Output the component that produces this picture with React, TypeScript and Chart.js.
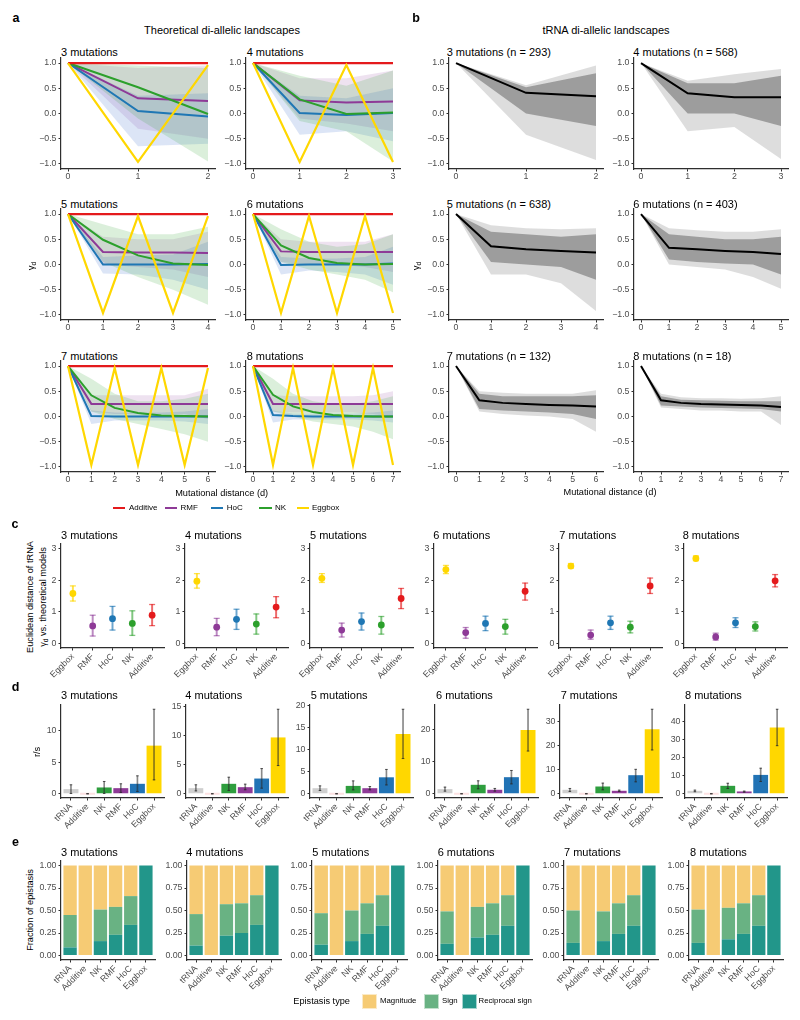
import React, { useEffect, useRef } from "react";
import { Chart, registerables } from "chart.js";

Chart.register(...registerables);

const FONT = '"Liberation Sans", Arial, Helvetica, sans-serif';
Chart.defaults.font.family = FONT;

// ================= DATA =================
const mutations = [3, 4, 5, 6, 7, 8];
const trnaCounts = [293, 568, 638, 403, 132, 18];

const distanceTicks = [
  [0, 1, 2],
  [0, 1, 2, 3],
  [0, 1, 2, 3, 4],
  [0, 1, 2, 3, 4, 5],
  [0, 1, 2, 3, 4, 5, 6],
  [0, 1, 2, 3, 4, 5, 6, 7],
];
const gammaTicks = [-1, -0.5, 0, 0.5, 1];
const gammaTickLabels = ["\u22121.0", "\u22120.5", "0.0", "0.5", "1.0"];

// ---- panel a: theoretical landscapes (mean lines) ----
const additiveMean = [
  [1, 1, 1],
  [1, 1, 1, 1],
  [1, 1, 1, 1, 1],
  [1, 1, 1, 1, 1, 1],
  [1, 1, 1, 1, 1, 1, 1],
  [1, 1, 1, 1, 1, 1, 1, 1],
];
const eggboxMean = [
  [1, -0.96, 0.96],
  [1, -0.96, 0.96, -0.96],
  [1, -0.96, 0.96, -0.96, 0.96],
  [1, -0.96, 0.96, -0.96, 0.96, -0.96],
  [1, -0.96, 0.96, -0.96, 0.96, -0.96, 0.96],
  [1, -0.96, 0.96, -0.96, 0.96, -0.96, 0.96, -0.96],
];
const rmfMean = [
  [1, 0.3, 0.25],
  [1, 0.26, 0.22, 0.24],
  [1, 0.25, 0.24, 0.24, 0.23],
  [1, 0.26, 0.25, 0.25, 0.25, 0.25],
  [1, 0.25, 0.25, 0.25, 0.25, 0.25, 0.25],
  [1, 0.25, 0.25, 0.25, 0.25, 0.25, 0.25, 0.25],
];
const hocMean = [
  [1, 0.05, -0.06],
  [1, 0.01, -0.03, 0.01],
  [1, 0.0, 0.0, 0.0, 0.01],
  [1, -0.01, 0.0, 0.0, 0.0, 0.02],
  [1, 0.01, 0.0, 0.0, 0.0, 0.0, 0.0],
  [1, 0.03, 0.01, 0.0, 0.0, 0.0, 0.0, 0.0],
];
const nkMean = [
  [1, 0.52, -0.01],
  [1, 0.28, -0.01, 0.02],
  [1, 0.49, 0.18, 0.02, -0.01],
  [1, 0.38, 0.13, 0.03, 0.0, 0.01],
  [1, 0.42, 0.17, 0.07, 0.02, 0.01, 0.0],
  [1, 0.43, 0.2, 0.09, 0.03, 0.01, 0.0, 0.0],
];
// ---- panel a: spread of the simulated landscapes (envelopes) ----
const rmfLo = [
  [1, -0.3, -0.5],
  [1, -0.1, -0.2, -0.35],
  [1, 0.0, -0.05, -0.1, -0.25],
  [1, 0.05, 0.0, 0.0, -0.05, -0.15],
  [1, 0.1, 0.05, 0.05, 0.05, 0.05, -0.05],
  [1, 0.1, 0.08, 0.08, 0.08, 0.08, 0.05, 0.0],
];
const rmfHi = [
  [1, 0.9, 0.95],
  [1, 0.7, 0.7, 0.85],
  [1, 0.55, 0.5, 0.5, 0.65],
  [1, 0.5, 0.45, 0.45, 0.45, 0.6],
  [1, 0.42, 0.42, 0.42, 0.42, 0.42, 0.55],
  [1, 0.42, 0.4, 0.4, 0.4, 0.4, 0.42, 0.5],
];
const hocLo = [
  [1, -0.65, -0.6],
  [1, -0.42, -0.35, -0.55],
  [1, -0.18, -0.2, -0.3, -0.5],
  [1, -0.2, -0.12, -0.15, -0.2, -0.4],
  [1, -0.15, -0.08, -0.08, -0.08, -0.1, -0.15],
  [1, -0.12, -0.06, -0.06, -0.06, -0.06, -0.08, -0.12],
];
const hocHi = [
  [1, 0.35, 0.4],
  [1, 0.35, 0.3, 0.5],
  [1, 0.15, 0.18, 0.2, 0.45],
  [1, 0.15, 0.12, 0.12, 0.15, 0.35],
  [1, 0.12, 0.08, 0.08, 0.08, 0.1, 0.15],
  [1, 0.12, 0.06, 0.06, 0.06, 0.06, 0.08, 0.12],
];
const nkLo = [
  [1, -0.1, -0.95],
  [1, -0.15, -0.35, -0.95],
  [1, 0.05, -0.25, -0.5, -0.8],
  [1, 0.05, -0.1, -0.2, -0.3, -0.55],
  [1, 0.1, -0.05, -0.15, -0.25, -0.35, -0.5],
  [1, 0.1, 0.0, -0.1, -0.15, -0.2, -0.3, -0.45],
];
const nkHi = [
  [1, 0.95, 0.9],
  [1, 0.75, 0.55, 0.85],
  [1, 0.8, 0.6, 0.6, 0.75],
  [1, 0.7, 0.45, 0.35, 0.4, 0.6],
  [1, 0.75, 0.45, 0.3, 0.3, 0.35, 0.45],
  [1, 0.75, 0.45, 0.3, 0.25, 0.25, 0.3, 0.4],
];

// ---- panel b: tRNA landscapes ----
const trnaMean = [
  [1, 0.41, 0.34],
  [1, 0.4, 0.32, 0.32],
  [1, 0.36, 0.3, 0.27, 0.24],
  [1, 0.33, 0.3, 0.27, 0.25, 0.21],
  [1, 0.32, 0.27, 0.25, 0.23, 0.22, 0.2],
  [1, 0.32, 0.27, 0.25, 0.24, 0.23, 0.22, 0.19],
];
const trnaLo = [
  [1, -0.42, -0.92],
  [1, -0.35, -0.27, -0.9],
  [1, -0.2, -0.2, -0.37, -0.92],
  [1, 0.0, -0.05, -0.1, -0.25, -0.48],
  [1, 0.1, 0.05, 0.02, 0.0, -0.05, -0.3],
  [1, 0.18, 0.15, 0.12, 0.12, 0.1, 0.1, -0.17],
];
const trnaHi = [
  [1, 0.56, 0.95],
  [1, 0.65, 0.78, 0.88],
  [1, 0.78, 0.72, 0.7, 0.72],
  [1, 0.72, 0.68, 0.65, 0.65, 0.7],
  [1, 0.5, 0.47, 0.45, 0.45, 0.45, 0.52],
  [1, 0.45, 0.38, 0.36, 0.36, 0.35, 0.36, 0.4],
];
const trnaCoreLo = [
  [1, 0.0, -0.25],
  [1, 0.0, 0.0, -0.25],
  [1, 0.05, 0.0, -0.05, -0.3],
  [1, 0.1, 0.05, 0.02, 0.0, -0.2],
  [1, 0.15, 0.12, 0.1, 0.08, 0.05, -0.05],
  [1, 0.22, 0.2, 0.18, 0.17, 0.16, 0.15, 0.1],
];
const trnaCoreHi = [
  [1, 0.52, 0.8],
  [1, 0.6, 0.6, 0.75],
  [1, 0.65, 0.6, 0.55, 0.6],
  [1, 0.6, 0.55, 0.5, 0.5, 0.55],
  [1, 0.45, 0.4, 0.4, 0.4, 0.4, 0.42],
  [1, 0.4, 0.33, 0.32, 0.31, 0.3, 0.3, 0.3],
];

// ---- panel c: Euclidean distance ----
const cCategories = ["Eggbox", "RMF", "HoC", "NK", "Additive"];
const cPositions = [1, 2, 3, 4, 5];
const cTicks = [0, 1, 2, 3];
const cTickLabels = ["0", "1", "2", "3"];
const cMean = [
  [1.58, 0.55, 0.78, 0.63, 0.89],
  [1.97, 0.51, 0.76, 0.61, 1.15],
  [2.06, 0.42, 0.69, 0.58, 1.42],
  [2.34, 0.34, 0.63, 0.53, 1.65],
  [2.45, 0.26, 0.65, 0.51, 1.82],
  [2.69, 0.2, 0.65, 0.53, 1.98],
];
const cLow = [
  [1.34, 0.23, 0.42, 0.25, 0.56],
  [1.75, 0.24, 0.44, 0.29, 0.81],
  [1.93, 0.2, 0.42, 0.29, 1.1],
  [2.21, 0.16, 0.4, 0.29, 1.37],
  [2.38, 0.13, 0.44, 0.33, 1.58],
  [2.62, 0.1, 0.5, 0.39, 1.79],
];
const cHigh = [
  [1.82, 0.89, 1.17, 1.03, 1.23],
  [2.21, 0.79, 1.08, 0.93, 1.48],
  [2.21, 0.64, 0.96, 0.85, 1.74],
  [2.47, 0.5, 0.86, 0.76, 1.91],
  [2.53, 0.42, 0.86, 0.7, 2.07],
  [2.77, 0.32, 0.81, 0.68, 2.18],
];

// ---- panel d: r/s ----
const dCategories = ["tRNA", "Additive", "NK", "RMF", "HoC", "Eggbox"];
const dPositions = [1, 2, 3, 4, 5, 6];
const dTicks = [
  [0, 5, 10],
  [0, 5, 10, 15],
  [0, 5, 10, 15, 20],
  [0, 10, 20],
  [0, 10, 20, 30],
  [0, 10, 20, 30, 40],
];
const dMean = [
  [0.74, 0, 1.0, 0.89, 1.58, 7.63],
  [0.97, 0, 1.72, 1.14, 2.63, 9.73],
  [1.26, 0, 1.78, 1.26, 3.72, 13.5],
  [1.46, 0, 2.81, 1.25, 5.2, 20.0],
  [1.64, 0, 3.0, 1.23, 7.67, 26.6],
  [1.64, 0, 4.38, 1.28, 10.4, 36.5],
];
const dLow = [
  [0.05, 0, 0.05, 0.21, 0.37, 2.21],
  [0.5, 0, 0.57, 0.69, 0.97, 4.87],
  [0.74, 0, 0.89, 0.89, 2.0, 7.96],
  [0.83, 0, 1.56, 0.83, 3.1, 13.4],
  [0.96, 0, 1.64, 0.96, 4.93, 18.1],
  [1.1, 0, 2.9, 0.9, 6.76, 26.5],
];
const dHigh = [
  [1.42, 0, 1.95, 1.58, 2.84, 13.4],
  [1.55, 0, 2.86, 1.66, 4.35, 14.6],
  [1.78, 0, 2.9, 1.64, 5.5, 19.1],
  [2.08, 0, 4.06, 1.67, 7.3, 26.5],
  [2.19, 0, 4.4, 1.5, 10.1, 34.9],
  [2.0, 0, 5.8, 1.46, 14.1, 46.6],
];

// ---- panel e: fraction of epistasis ----
const eTicks = [0, 0.25, 0.5, 0.75, 1];
const eTickLabels = ["0.00", "0.25", "0.50", "0.75", "1.00"];
const epistasisTypes = ["Magnitude", "Sign", "Reciprocal sign"];
const eReciprocal = [
  [0.09, 0, 0.16, 0.23, 0.34, 1],
  [0.11, 0, 0.22, 0.25, 0.34, 1],
  [0.12, 0, 0.16, 0.24, 0.33, 1],
  [0.13, 0, 0.2, 0.23, 0.33, 1],
  [0.14, 0, 0.16, 0.24, 0.33, 1],
  [0.14, 0, 0.18, 0.24, 0.33, 1],
];
const eSign = [
  [0.36, 0, 0.35, 0.31, 0.32, 0],
  [0.35, 0, 0.35, 0.33, 0.33, 0],
  [0.35, 0, 0.34, 0.34, 0.34, 0],
  [0.36, 0, 0.34, 0.35, 0.34, 0],
  [0.36, 0, 0.33, 0.34, 0.34, 0],
  [0.37, 0, 0.35, 0.34, 0.34, 0],
];
const eMagnitude = [
  [0.55, 1, 0.49, 0.46, 0.34, 0],
  [0.54, 1, 0.43, 0.42, 0.33, 0],
  [0.53, 1, 0.5, 0.42, 0.33, 0],
  [0.51, 1, 0.46, 0.42, 0.33, 0],
  [0.5, 1, 0.51, 0.42, 0.33, 0],
  [0.49, 1, 0.47, 0.42, 0.33, 0],
];

// ================= STYLE / LAYOUT =================
const AXIS_COLOR = "#2e2e2e";
const TICK_COLOR = "#4d4d4d";
const COLORS: Record<string, string> = {
  Additive: "#E41A1C",
  RMF: "#8E3A97",
  HoC: "#1F77B4",
  NK: "#2CA02C",
  Eggbox: "#FFD700",
  tRNA: "#CCCCCC",
};
const ERR_COLORS: Record<string, string> = {
  Additive: "rgba(228,26,28,0.65)",
  RMF: "rgba(142,58,151,0.6)",
  HoC: "rgba(31,119,180,0.65)",
  NK: "rgba(44,160,44,0.6)",
  Eggbox: "rgba(255,215,0,0.7)",
};
const D_BAR_COLORS: Record<string, string> = {
  tRNA: "#CFCFCF",
  Additive: "rgba(228,26,28,0.13)",
  NK: "#2E9E3E",
  RMF: "#8E3A97",
  HoC: "#2173B5",
  Eggbox: "#FFD700",
};
const E_COLORS: Record<string, string> = {
  Magnitude: "#F6CB74",
  Sign: "#69B283",
  "Reciprocal sign": "#22968A",
};

const AB_TOP = [58.2, 209.3, 361.4];
const AB_H = 111;
const AB_W = 154;
const A_LEFT = [61.3, 246.3];
const B_LEFT = [449, 634];
const AB_TITLE_Y = [52, 204, 356];

const C_LEFT = [60.5, 185.1, 309.7, 434.3, 558.9, 683.5];
const C_W = 103;
const C_TOP = 543.5;
const C_H = 104.5;

const D_LEFT = [61, 185.7, 310.4, 435.1, 559.8, 684.5];
const D_W = 102.5;
const D_TOP = 705;
const D_H = 93.2;

const E_LEFT = [61.1, 186.7, 312.3, 437.9, 563.5, 689.1];
const E_W = 94.3;
const E_TOP = 861.2;
const E_H = 99;

type Pad = { l: number; r: number; t: number; b: number };
const PAD_AB: Pad = { l: 26, r: 8, t: 9, b: 18 };
const PAD_C: Pad = { l: 20, r: 6, t: 9, b: 44 };
const PAD_D: Pad = { l: 22, r: 6, t: 9, b: 44 };
const PAD_E: Pad = { l: 28, r: 6, t: 9, b: 44 };

// ================= CHART HELPERS =================
function axis(
  kind: "x" | "y",
  o: { min: number; max: number; ticks: number[]; labels: string[]; size: number; rotate?: number; stacked?: boolean }
) {
  const rot = o.rotate ?? 0;
  return {
    type: "linear",
    min: o.min,
    max: o.max,
    bounds: "data",
    offset: false,
    stacked: o.stacked ?? false,
    afterBuildTicks: (s: any) => {
      s.ticks = o.ticks.map((v) => ({ value: v }));
    },
    afterFit: (s: any) => {
      if (kind === "x") s.height = o.size;
      else s.width = o.size;
    },
    grid: {
      display: true,
      drawOnChartArea: false,
      drawTicks: true,
      tickLength: 2.5,
      color: AXIS_COLOR,
      lineWidth: 1,
      offset: false,
    },
    border: { display: true, color: AXIS_COLOR, width: 1.2 },
    ticks: {
      autoSkip: false,
      maxRotation: rot,
      minRotation: rot,
      padding: kind === "x" ? (rot ? 1 : 0) : 2,
      color: TICK_COLOR,
      font: { family: FONT, size: 8.8 },
      callback: (_v: any, idx: number) => o.labels[idx] ?? "",
    },
  };
}

function baseOptions(pad: Pad, scales: any) {
  return {
    responsive: false,
    maintainAspectRatio: false,
    animation: false,
    devicePixelRatio: 1,
    events: [],
    layout: { padding: { left: 0, right: pad.r, top: pad.t, bottom: 0 } },
    plugins: { legend: { display: false }, tooltip: { enabled: false }, title: { display: false } },
    scales,
  };
}

function ChartBox({ area, pad, make }: { area: number[]; pad: Pad; make: (p: Pad) => any }) {
  const ref = useRef<HTMLCanvasElement | null>(null);
  const left = Math.round(area[0] - pad.l);
  const top = Math.round(area[1] - pad.t);
  const right = Math.round(area[0] + area[2] + pad.r);
  const bottom = Math.round(area[1] + area[3] + pad.b);
  const width = right - left;
  const height = bottom - top;
  const eff: Pad = {
    l: Math.round(area[0]) - left,
    t: Math.round(area[1]) - top,
    r: right - Math.round(area[0] + area[2]),
    b: bottom - Math.round(area[1] + area[3]),
  };
  useEffect(() => {
    if (!ref.current) return;
    const chart = new Chart(ref.current, make(eff));
    return () => chart.destroy();
  }, []);
  return (
    <canvas
      ref={ref}
      width={width}
      height={height}
      style={{ position: "absolute", left, top, width, height, display: "block" }}
    />
  );
}

// ---- panel a ----
function makeTheory(i: number) {
  return (pad: Pad) => {
    const xs = distanceTicks[i];
    const n = xs[xs.length - 1];
    const xy = (arr: number[]) => arr.map((y, k) => ({ x: xs[k], y }));
    const line = (arr: number[], color: string, w: number) => ({
      data: xy(arr),
      borderColor: color,
      borderWidth: w,
      pointRadius: 0,
      fill: false,
      tension: 0,
    });
    const band = (hi: number[], lo: number[], color: string) => [
      { data: xy(hi), borderWidth: 0, pointRadius: 0, fill: "+1", backgroundColor: color },
      { data: xy(lo), borderWidth: 0, pointRadius: 0, fill: false },
    ];
    return {
      type: "line",
      data: {
        datasets: [
          line(eggboxMean[i], COLORS.Eggbox, 2.2),
          line(additiveMean[i], COLORS.Additive, 2.2),
          line(nkMean[i], COLORS.NK, 2),
          line(hocMean[i], COLORS.HoC, 2),
          line(rmfMean[i], COLORS.RMF, 2),
          ...band(nkHi[i], nkLo[i], "rgba(44,160,44,0.17)"),
          ...band(hocHi[i], hocLo[i], "rgba(50,100,200,0.17)"),
          ...band(rmfHi[i], rmfLo[i], "rgba(142,58,151,0.15)"),
        ],
      },
      options: baseOptions(pad, {
        x: axis("x", { min: -0.05 * n, max: 1.05 * n, ticks: xs, labels: xs.map(String), size: pad.b }),
        y: axis("y", { min: -1.1, max: 1.1, ticks: gammaTicks, labels: gammaTickLabels, size: pad.l }),
      }),
    };
  };
}

// ---- panel b ----
function makeTrna(i: number) {
  return (pad: Pad) => {
    const xs = distanceTicks[i];
    const n = xs[xs.length - 1];
    const xy = (arr: number[]) => arr.map((y, k) => ({ x: xs[k], y }));
    const band = (hi: number[], lo: number[], color: string) => [
      { data: xy(hi), borderWidth: 0, pointRadius: 0, fill: "+1", backgroundColor: color },
      { data: xy(lo), borderWidth: 0, pointRadius: 0, fill: false },
    ];
    return {
      type: "line",
      data: {
        datasets: [
          { data: xy(trnaMean[i]), borderColor: "#000000", borderWidth: 2, pointRadius: 0, fill: false, tension: 0 },
          ...band(trnaCoreHi[i], trnaCoreLo[i], "rgba(70,70,70,0.42)"),
          ...band(trnaHi[i], trnaLo[i], "rgba(150,150,150,0.32)"),
        ],
      },
      options: baseOptions(pad, {
        x: axis("x", { min: -0.05 * n, max: 1.05 * n, ticks: xs, labels: xs.map(String), size: pad.b }),
        y: axis("y", { min: -1.1, max: 1.1, ticks: gammaTicks, labels: gammaTickLabels, size: pad.l }),
      }),
    };
  };
}

// ---- panel c ----
function makeDistance(i: number) {
  return (pad: Pad) => {
    const pts = cMean[i].map((v, k) => ({ x: cPositions[k], y: v }));
    const caps = [
      ...cLow[i].map((v, k) => ({ x: cPositions[k], y: v })),
      ...cHigh[i].map((v, k) => ({ x: cPositions[k], y: v })),
    ];
    const capColors = [...cCategories, ...cCategories].map((c) => ERR_COLORS[c]);
    return {
      type: "bar",
      data: {
        datasets: [
          {
            type: "scatter",
            data: pts,
            pointStyle: "circle",
            pointRadius: 3.4,
            pointBackgroundColor: cCategories.map((c) => COLORS[c]),
            pointBorderWidth: 0,
            borderWidth: 0,
          },
          {
            type: "scatter",
            data: caps,
            pointStyle: "line",
            pointRadius: 3,
            pointBorderColor: capColors,
            borderColor: capColors,
            pointBorderWidth: 1.3,
          },
          {
            type: "bar",
            data: cLow[i].map((lo, k) => ({ x: cPositions[k], y: [lo, cHigh[i][k]] })),
            backgroundColor: cCategories.map((c) => ERR_COLORS[c]),
            barThickness: 1.3,
            grouped: false,
          },
        ],
      },
      options: baseOptions(pad, {
        x: axis("x", { min: 0.4, max: 5.6, ticks: cPositions, labels: cCategories, size: pad.b, rotate: 45 }),
        y: axis("y", { min: -0.15, max: 3.15, ticks: cTicks, labels: cTickLabels, size: pad.l }),
      }),
    };
  };
}

// ---- panel d ----
function makeRatio(i: number) {
  return (pad: Pad) => {
    const top = Math.max(...dHigh[i]);
    const caps = [
      ...dLow[i].map((v, k) => ({ x: dPositions[k], y: v })),
      ...dHigh[i].map((v, k) => ({ x: dPositions[k], y: v })),
    ];
    return {
      type: "bar",
      data: {
        datasets: [
          {
            type: "scatter",
            data: caps,
            pointStyle: "line",
            pointRadius: 1.3,
            pointBorderColor: "rgba(40,40,40,0.75)",
            borderColor: "rgba(40,40,40,0.75)",
            pointBorderWidth: 1,
          },
          {
            type: "bar",
            data: dLow[i].map((lo, k) => ({ x: dPositions[k], y: [lo, dHigh[i][k]] })),
            backgroundColor: "rgba(40,40,40,0.55)",
            barThickness: 1,
            grouped: false,
          },
          {
            type: "bar",
            data: dMean[i].map((v, k) => ({ x: dPositions[k], y: v })),
            backgroundColor: dCategories.map((c) => D_BAR_COLORS[c]),
            borderWidth: 0,
            barPercentage: 0.9,
            categoryPercentage: 1,
            grouped: false,
            minBarLength: 2,
          },
        ],
      },
      options: baseOptions(pad, {
        x: axis("x", { min: 0.4, max: 6.6, ticks: dPositions, labels: dCategories, size: pad.b, rotate: 45 }),
        y: axis("y", {
          min: -0.05 * top,
          max: 1.05 * top,
          ticks: dTicks[i],
          labels: dTicks[i].map(String),
          size: pad.l,
        }),
      }),
    };
  };
}

// ---- panel e ----
function makeFraction(i: number) {
  return (pad: Pad) => {
    const series = [
      { name: "Reciprocal sign", values: eReciprocal[i] },
      { name: "Sign", values: eSign[i] },
      { name: "Magnitude", values: eMagnitude[i] },
    ];
    return {
      type: "bar",
      data: {
        datasets: series.map((s) => ({
          type: "bar",
          label: s.name,
          data: s.values.map((v, k) => ({ x: dPositions[k], y: v })),
          backgroundColor: E_COLORS[s.name],
          borderWidth: 0,
          barPercentage: 0.88,
          categoryPercentage: 1,
        })),
      },
      options: baseOptions(pad, {
        x: axis("x", { min: 0.4, max: 6.6, ticks: dPositions, labels: dCategories, size: pad.b, rotate: 45, stacked: true }),
        y: axis("y", { min: -0.05, max: 1.05, ticks: eTicks, labels: eTickLabels, size: pad.l, stacked: true }),
      }),
    };
  };
}

// ================= TEXT HELPERS =================
function Txt({
  x,
  y,
  size = 11,
  align = "left",
  bold = false,
  rotate = false,
  color = "#000",
  children,
}: {
  x: number;
  y: number;
  size?: number;
  align?: "left" | "center" | "right";
  bold?: boolean;
  rotate?: boolean;
  color?: string;
  children: any;
}) {
  const tx = align === "center" ? "-50%" : align === "right" ? "-100%" : "0";
  return (
    <div
      style={{
        position: "absolute",
        left: x,
        top: y,
        transform: rotate ? "translate(-50%, -50%) rotate(-90deg)" : `translate(${tx}, -50%)`,
        fontSize: size,
        fontWeight: bold ? 700 : 400,
        color,
        whiteSpace: "nowrap",
        lineHeight: 1.15,
        fontFamily: FONT,
      }}
    >
      {children}
    </div>
  );
}

const Gamma = () => (
  <span>
    γ<sub style={{ fontSize: "72%", verticalAlign: "-0.3em", lineHeight: 0 }}>d</sub>
  </span>
);

const legendA = [
  { name: "Additive", line: 112.7, text: 129 },
  { name: "RMF", line: 164.5, text: 180.5 },
  { name: "HoC", line: 210.7, text: 226.7 },
  { name: "NK", line: 259.3, text: 275 },
  { name: "Eggbox", line: 296.7, text: 312 },
];
const legendE = [
  { name: "Magnitude", box: 361.7, text: 380 },
  { name: "Sign", box: 423.5, text: 442 },
  { name: "Reciprocal sign", box: 461.5, text: 478.5 },
];

const A_TITLE_X = [61, 246.7];
const B_TITLE_X = [446.7, 633.3];
const C_TITLE_X = [61, 185, 310, 433.3, 559.3, 682.7];
const D_TITLE_X = [61, 185.3, 310.7, 436, 560.7, 685];
const E_TITLE_X = [61, 186.3, 312.3, 437.7, 564, 690];

export default function App() {
  return (
    <div
      style={{
        position: "absolute",
        left: 0,
        top: 0,
        width: 800,
        height: 1020,
        background: "#ffffff",
        overflow: "hidden",
        fontFamily: FONT,
      }}
    >
      {/* ---------- panel a ---------- */}
      <Txt x={16} y={18.3} size={12.5} bold align="center">a</Txt>
      <Txt x={222} y={30} size={11} align="center">Theoretical di-allelic landscapes</Txt>
      {mutations.map((m, i) => (
        <React.Fragment key={"a" + m}>
          <Txt x={A_TITLE_X[i % 2]} y={AB_TITLE_Y[Math.floor(i / 2)]} size={11}>{`${m} mutations`}</Txt>
          <ChartBox
            area={[A_LEFT[i % 2], AB_TOP[Math.floor(i / 2)], AB_W, AB_H]}
            pad={PAD_AB}
            make={makeTheory(i)}
          />
        </React.Fragment>
      ))}
      <Txt x={31} y={266} size={9.5} rotate><Gamma /></Txt>
      <Txt x={221.7} y={492.7} size={9.2} align="center">Mutational distance (d)</Txt>
      {legendA.map((l) => (
        <React.Fragment key={"la" + l.name}>
          <div
            style={{
              position: "absolute",
              left: l.line,
              top: 506.7,
              width: 12.5,
              height: 2,
              background: COLORS[l.name],
            }}
          />
          <Txt x={l.text} y={507.7} size={8}>{l.name}</Txt>
        </React.Fragment>
      ))}

      {/* ---------- panel b ---------- */}
      <Txt x={416} y={18.3} size={12.5} bold align="center">b</Txt>
      <Txt x={606} y={30} size={11} align="center">tRNA di-allelic landscapes</Txt>
      {mutations.map((m, i) => (
        <React.Fragment key={"b" + m}>
          <Txt x={B_TITLE_X[i % 2]} y={AB_TITLE_Y[Math.floor(i / 2)]} size={11}>
            {`${m} mutations (n = ${trnaCounts[i]})`}
          </Txt>
          <ChartBox
            area={[B_LEFT[i % 2], AB_TOP[Math.floor(i / 2)], AB_W, AB_H]}
            pad={PAD_AB}
            make={makeTrna(i)}
          />
        </React.Fragment>
      ))}
      <Txt x={416.3} y={266} size={9.5} rotate><Gamma /></Txt>
      <Txt x={610} y={491.7} size={9.2} align="center">Mutational distance (d)</Txt>

      {/* ---------- panel c ---------- */}
      <Txt x={15} y={524} size={12.5} bold align="center">c</Txt>
      <Txt x={30} y={597} size={9.2} rotate>Euclidean distance of tRNA</Txt>
      <Txt x={42.5} y={597} size={9.2} rotate>
        <Gamma /> vs. theoretical models
      </Txt>
      {mutations.map((m, i) => (
        <React.Fragment key={"c" + m}>
          <Txt x={C_TITLE_X[i]} y={535} size={11}>{`${m} mutations`}</Txt>
          <ChartBox area={[C_LEFT[i], C_TOP, C_W, C_H]} pad={PAD_C} make={makeDistance(i)} />
        </React.Fragment>
      ))}

      {/* ---------- panel d ---------- */}
      <Txt x={15.5} y={687} size={12.5} bold align="center">d</Txt>
      <Txt x={36.7} y={751.7} size={9.2} rotate>r/s</Txt>
      {mutations.map((m, i) => (
        <React.Fragment key={"d" + m}>
          <Txt x={D_TITLE_X[i]} y={695} size={11}>{`${m} mutations`}</Txt>
          <ChartBox area={[D_LEFT[i], D_TOP, D_W, D_H]} pad={PAD_D} make={makeRatio(i)} />
        </React.Fragment>
      ))}

      {/* ---------- panel e ---------- */}
      <Txt x={15.5} y={842} size={12.5} bold align="center">e</Txt>
      <Txt x={30} y={910} size={9.2} rotate>Fraction of epistasis</Txt>
      {mutations.map((m, i) => (
        <React.Fragment key={"e" + m}>
          <Txt x={E_TITLE_X[i]} y={851.7} size={11}>{`${m} mutations`}</Txt>
          <ChartBox area={[E_LEFT[i], E_TOP, E_W, E_H]} pad={PAD_E} make={makeFraction(i)} />
        </React.Fragment>
      ))}
      <Txt x={293.3} y={1001} size={9.2}>Epistasis type</Txt>
      {legendE.map((l, k) => (
        <React.Fragment key={"le" + l.name}>
          <div
            style={{
              position: "absolute",
              left: l.box,
              top: 993.5,
              width: 15,
              height: 15,
              boxSizing: "border-box",
              background: E_COLORS[epistasisTypes[k]],
              border: "1px solid rgba(255,255,255,0.6)",
            }}
          />
          <Txt x={l.text} y={1001} size={7.8}>{l.name}</Txt>
        </React.Fragment>
      ))}
    </div>
  );
}
